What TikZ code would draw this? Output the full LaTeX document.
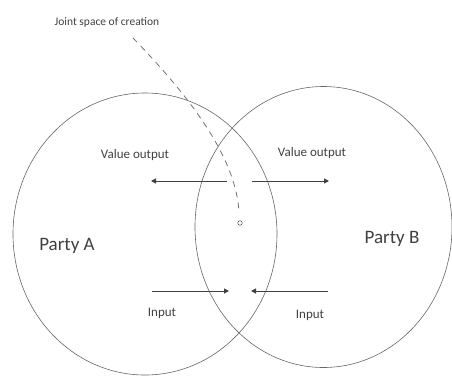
\documentclass[tikz,border=0pt]{standalone}
\usepackage{fontspec}
\setmainfont{Carlito}
\usetikzlibrary{shapes.geometric,arrows.meta}
\begin{document}
\begin{tikzpicture}[x=1pt,y=-1pt,
  party/.style={draw=black!60,line width=0.6pt,ellipse,inner sep=0pt},
  lbl/.style={text=black!75,font=\fontsize{13}{15}\selectfont,inner sep=0pt},
  small/.style={text=black!75,font=\fontsize{11.5}{13}\selectfont,inner sep=0pt},
  big/.style={text=black!75,font=\fontsize{19}{22}\selectfont,inner sep=0pt},
  flow/.style={draw=black!75,line width=1pt,-{Triangle[length=5pt,width=5pt]}},
  joint/.style={draw=black!55,line width=0.8pt,dash pattern=on 6pt off 5pt}]
\useasboundingbox (0,0) rectangle (452,376);
\node[party,minimum width=264pt,minimum height=282pt] (A) at (145,234) {};
\node[party,minimum width=257pt,minimum height=281pt] (B) at (323.5,227) {};
\node[big] (pa) at (67,246) {Party A};
\node[big] (pb) at (392,239) {Party B};
\node[lbl] (vo1) at (135,155) {Value output};
\node[lbl] (vo2) at (312,153) {Value output};
\node[lbl] (in1) at (162,313) {Input};
\node[lbl] (in2) at (310,315) {Input};
\node[small] (js) at (107,22) {Joint space of creation};
\node[draw=black!70,circle,line width=0.5pt,minimum size=4.5pt,inner sep=0pt] (c) at (240,223) {};
\coordinate (j0) at (133,38);
\coordinate (j1) at (239,212);
\coordinate (o1s) at (227,181); \coordinate (o1e) at (151,181);
\coordinate (o2s) at (252,181); \coordinate (o2e) at (329,181);
\coordinate (i1s) at (152,291); \coordinate (i1e) at (229,291);
\coordinate (i2s) at (328,291); \coordinate (i2e) at (251,291);
\draw[joint] (j0) .. controls (195,102) and (236,160) .. (j1);
\draw[flow] (o1s) -- (o1e);
\draw[flow] (o2s) -- (o2e);
\draw[flow] (i1s) -- (i1e);
\draw[flow] (i2s) -- (i2e);
\end{tikzpicture}
\end{document}
